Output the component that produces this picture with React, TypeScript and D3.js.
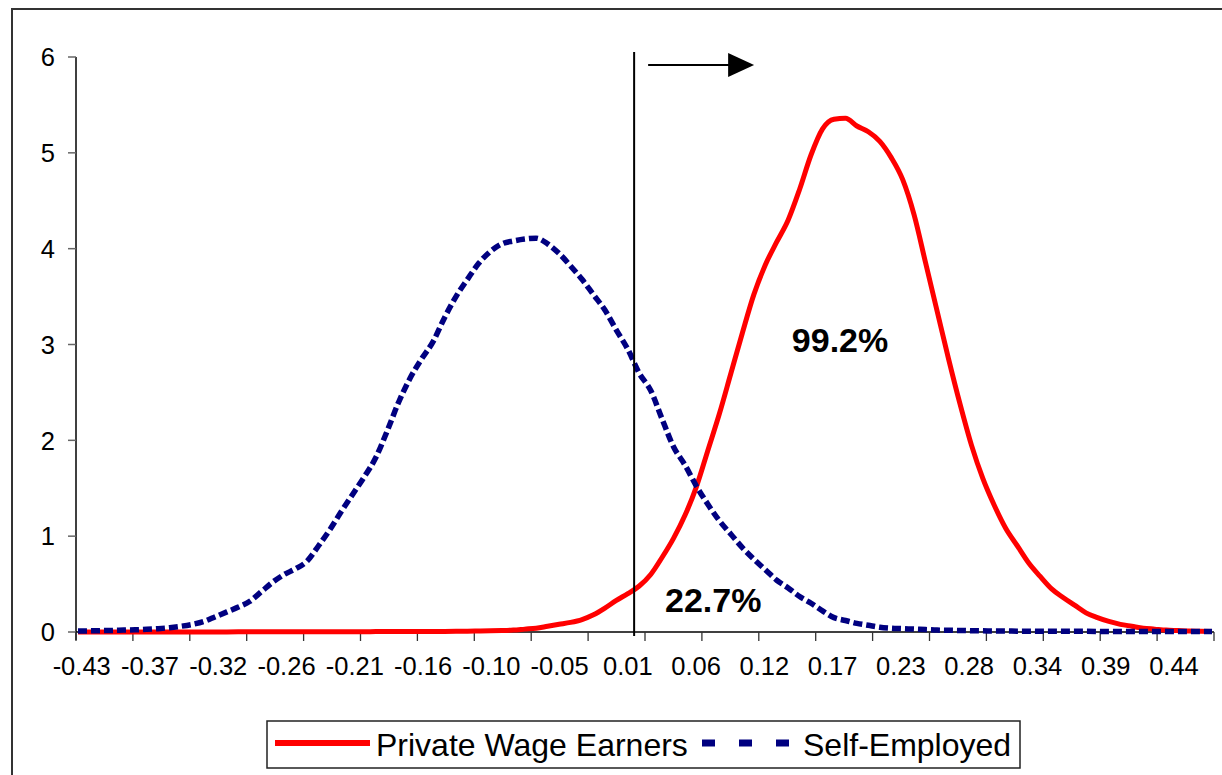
import React from "react";
import * as d3 from "d3";

// ---- Data ----
const xLabels = [
  "-0.43", "-0.37", "-0.32", "-0.26", "-0.21", "-0.16", "-0.10", "-0.05",
  "0.01", "0.06", "0.12", "0.17", "0.23", "0.28", "0.34", "0.39", "0.44",
];
const yTicks = [0, 1, 2, 3, 4, 5, 6];
const threshold = 0.01;

const privateWage = [
  0.001, 0.001, 0.001, 0.001, 0.001, 0.001, 0.001, 0.001, 0.001, 0.001,
  0.001, 0.001, 0.001, 0.001, 0.002, 0.002, 0.002, 0.002, 0.002, 0.002,
  0.002, 0.003, 0.003, 0.003, 0.003, 0.003, 0.004, 0.004, 0.004, 0.005,
  0.005, 0.006, 0.006, 0.007, 0.008, 0.01, 0.012, 0.015, 0.02, 0.03,
  0.04, 0.06, 0.08, 0.1, 0.13, 0.18, 0.25, 0.33, 0.4, 0.48,
  0.6, 0.78, 0.98, 1.22, 1.52, 1.9, 2.28, 2.7, 3.12, 3.52,
  3.83, 4.07, 4.3, 4.62, 4.98, 5.25, 5.35, 5.36, 5.28, 5.22,
  5.12, 4.95, 4.72, 4.35, 3.85, 3.35, 2.85, 2.38, 1.95, 1.6,
  1.32, 1.08, 0.9, 0.72, 0.58, 0.45, 0.36, 0.28, 0.2, 0.15,
  0.11, 0.08, 0.06, 0.04, 0.03, 0.02, 0.015, 0.01, 0.008, 0.005,
];

const selfEmployed = [
  0.01, 0.012, 0.014, 0.016, 0.02, 0.023, 0.028, 0.035, 0.045, 0.06,
  0.08, 0.11, 0.16, 0.21, 0.26, 0.32, 0.42, 0.52, 0.6, 0.66,
  0.74, 0.9, 1.07, 1.26, 1.44, 1.62, 1.82, 2.1, 2.4, 2.65,
  2.85, 3.03, 3.28, 3.5, 3.68, 3.85, 3.97, 4.05, 4.08, 4.1,
  4.11, 4.05, 3.95, 3.82, 3.68, 3.52, 3.36, 3.15, 2.95, 2.7,
  2.52, 2.22, 1.93, 1.74, 1.52, 1.33, 1.16, 1.02, 0.88, 0.76,
  0.65, 0.54, 0.46, 0.37, 0.3, 0.22, 0.15, 0.12, 0.09, 0.07,
  0.05, 0.04, 0.035, 0.03, 0.025, 0.02, 0.018, 0.016, 0.014, 0.012,
  0.01, 0.01, 0.009, 0.009, 0.008, 0.008, 0.007, 0.007, 0.007, 0.006,
  0.006, 0.006, 0.006, 0.005, 0.005, 0.005, 0.005, 0.005, 0.005, 0.005,
];

const seriesNames = ["Private Wage Earners", "Self-Employed"];
const annotations = [
  { text: "99.2%", value: 0.174, y: 2.92 },
  { text: "22.7%", value: 0.073, y: 0.21 },
];

const W = 1222;
const H = 775;
const left = 76;
const right = 1214;
const top = 57;
const bottom = 632;
const FONT = "'Liberation Sans', Arial, Helvetica, sans-serif";
const RED = "#FF0000";
const NAVY = "#000080";

export default function App() {
  const y = d3.scaleLinear().domain([0, 6]).range([bottom, top]);
  const axisUnits = d3.scaleLinear().domain([0, 20]).range([left, right]);
  const labelScale = d3
    .scalePoint<string>()
    .domain(xLabels)
    .range([81.7, 1174]);
  const valueScale = d3
    .scaleLinear()
    .domain([+xLabels[0], +xLabels[xLabels.length - 1]])
    .range([81.7, 1174]);
  const dataX = d3
    .scaleLinear()
    .domain([0, privateWage.length - 1])
    .range([78, 1212]);

  const line = d3
    .line<number>()
    .x((_, i) => dataX(i))
    .y((d) => y(d))
    .curve(d3.curveMonotoneX);

  const xT = valueScale(threshold);
  const tickIdx = d3.range(0, 21);

  return (
    <svg
      width={W}
      height={H}
      style={{ position: "absolute", left: 0, top: 0, background: "#fff" }}
      fontFamily={FONT}
    >
      <rect x={0} y={0} width={W} height={H} fill="#fff" />
      {/* chart frame */}
      <rect x={12} y={9} width={W + 20} height={H + 20} fill="none" stroke="#333" strokeWidth={2} />

      {/* y axis */}
      <line x1={left} x2={left} y1={top} y2={bottom + 8} stroke="#000" strokeWidth={1.5} />
      {yTicks.map((t) => (
        <g key={t}>
          <line x1={left - 8} x2={left} y1={y(t)} y2={y(t)} stroke="#666" strokeWidth={1.5} />
          <text x={55} y={y(t)} dy="0.36em" textAnchor="end" fontSize={25.5} fill="#000">
            {t}
          </text>
        </g>
      ))}

      {/* x axis */}
      <line x1={left} x2={right} y1={bottom} y2={bottom} stroke="#000" strokeWidth={1.5} />
      {tickIdx.map((k) => (
        <line
          key={k}
          x1={axisUnits(k)}
          x2={axisUnits(k)}
          y1={bottom}
          y2={bottom + 9}
          stroke="#333"
          strokeWidth={1.3}
        />
      ))}
      {xLabels.map((l) => (
        <text key={l} x={labelScale(l)} y={675} textAnchor="middle" fontSize={25.5} fill="#000">
          {l}
        </text>
      ))}

      {/* series */}
      <path d={line(privateWage) || ""} fill="none" stroke={RED} strokeWidth={5} strokeLinejoin="round" />
      <path
        d={line(selfEmployed) || ""}
        fill="none"
        stroke={NAVY}
        strokeWidth={5.5}
        strokeDasharray="9,4"
      />

      {/* threshold line and arrow */}
      <line x1={xT} x2={xT} y1={52} y2={636} stroke="#000" strokeWidth={2} />
      <line x1={xT + 14} x2={xT + 95} y1={65} y2={65} stroke="#000" strokeWidth={2} />
      <polygon
        points={`${xT + 94},53 ${xT + 120},65 ${xT + 94},77`}
        fill="#000"
      />

      {/* annotations */}
      {annotations.map((a) => (
        <text
          key={a.text}
          x={valueScale(a.value)}
          y={y(a.y)}
          textAnchor="middle"
          fontSize={34}
          fontWeight="bold"
          fill="#000"
        >
          {a.text}
        </text>
      ))}

      {/* legend */}
      <rect x={267} y={721} width={753} height={47} fill="#fff" stroke="#222" strokeWidth={1.5} />
      <line x1={275} x2={370} y1={743} y2={743} stroke={RED} strokeWidth={6} />
      <text x={376} y={756} fontSize={32} fill="#000">
        {seriesNames[0]}
      </text>
      <line
        x1={702}
        x2={790}
        y1={743}
        y2={743}
        stroke={NAVY}
        strokeWidth={7}
        strokeDasharray="13,24"
      />
      <text x={803} y={756} fontSize={32} fill="#000">
        {seriesNames[1]}
      </text>
    </svg>
  );
}
